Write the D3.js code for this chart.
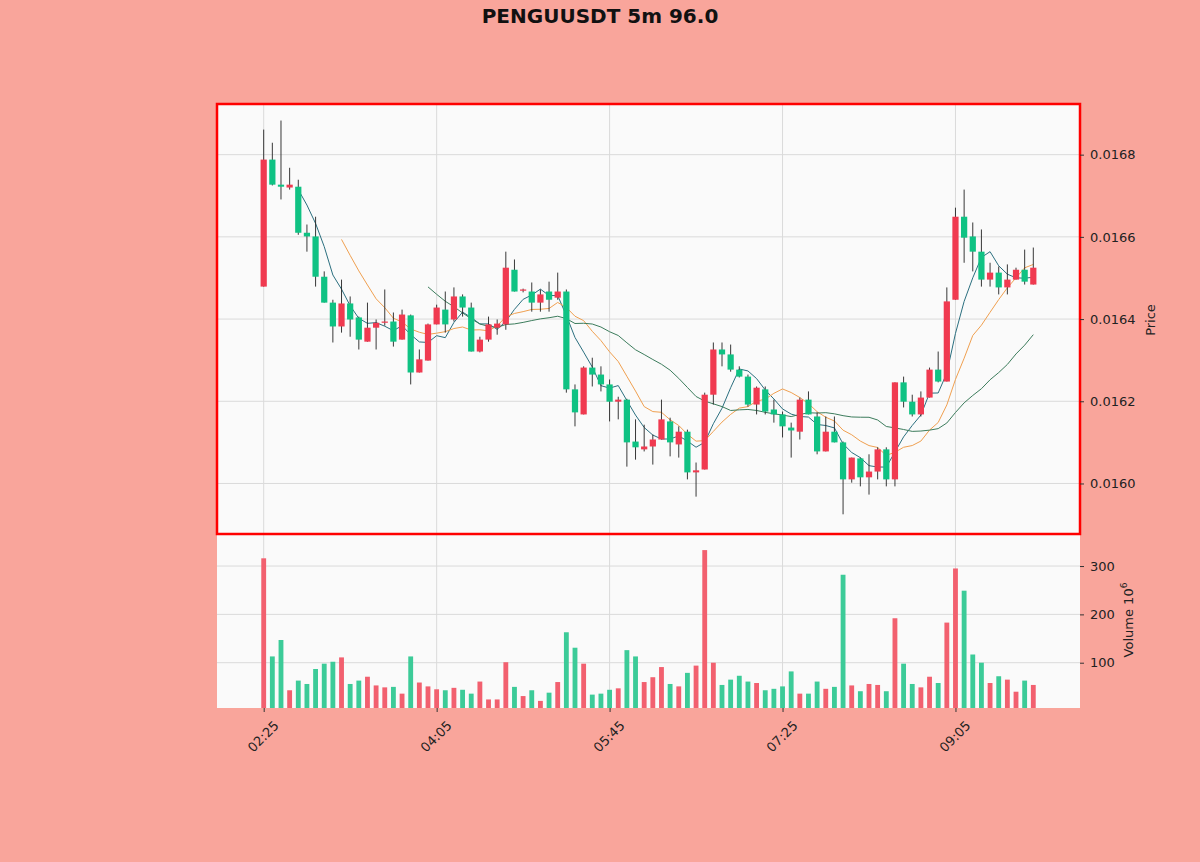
<!DOCTYPE html>
<html>
<head>
<meta charset="utf-8">
<script src="https://cdn.jsdelivr.net/npm/d3@7"></script>
<style>
  html, body { margin: 0; padding: 0; background: #f9a59b; }
  svg { display: block; font-family: "DejaVu Sans", sans-serif; }
</style>
</head>
<body>
<div id="svg-container"></div>
<script>
console.log("candles loaded");

// ohlc, 5m bars starting 02:25
const opens = [0.016479,0.016788,0.016727,0.016720,0.016722,0.016610,0.016601,0.016503,0.016440,0.016382,
  0.016438,0.016404,0.016345,0.016379,0.016391,0.016394,0.016350,0.016409,0.016270,0.016299,
  0.016387,0.016423,0.016399,0.016455,0.016428,0.016321,0.016350,0.016379,0.016387,0.016520,
  0.016469,0.016467,0.016440,0.016467,0.016452,0.016467,0.016229,0.016168,0.016282,0.016265,
  0.016241,0.016199,0.016204,0.016102,0.016083,0.016090,0.016107,0.016151,0.016095,0.016126,
  0.016027,0.016034,0.016216,0.016326,0.016314,0.016277,0.016260,0.016192,0.016229,0.016180,
  0.016168,0.016136,0.016126,0.016204,0.016163,0.016078,0.016126,0.016100,0.016010,0.016061,
  0.016015,0.016029,0.016083,0.016010,0.016246,0.016199,0.016168,0.016209,0.016277,0.016248,
  0.016447,0.016649,0.016601,0.016564,0.016496,0.016513,0.016477,0.016496,0.016520,0.016484];
const highs = [0.016861,0.016829,0.016883,0.016768,0.016739,0.016630,0.016649,0.016516,0.016447,0.016496,
  0.016455,0.016406,0.016440,0.016399,0.016472,0.016416,0.016423,0.016411,0.016326,0.016389,
  0.016435,0.016467,0.016477,0.016460,0.016440,0.016357,0.016406,0.016399,0.016564,0.016545,
  0.016474,0.016489,0.016472,0.016491,0.016513,0.016472,0.016241,0.016285,0.016306,0.016285,
  0.016253,0.016211,0.016206,0.016156,0.016143,0.016119,0.016204,0.016160,0.016139,0.016131,
  0.016051,0.016221,0.016343,0.016343,0.016338,0.016285,0.016265,0.016236,0.016236,0.016204,
  0.016175,0.016148,0.016209,0.016224,0.016173,0.016163,0.016163,0.016102,0.016063,0.016063,
  0.016071,0.016088,0.016088,0.016246,0.016260,0.016216,0.016224,0.016282,0.016321,0.016477,
  0.016671,0.016715,0.016635,0.016618,0.016537,0.016528,0.016533,0.016525,0.016569,0.016574];
const lows = [0.016479,0.016725,0.016691,0.016715,0.016605,0.016564,0.016479,0.016440,0.016343,0.016367,
  0.016357,0.016326,0.016345,0.016326,0.016384,0.016333,0.016350,0.016241,0.016270,0.016299,
  0.016387,0.016367,0.016394,0.016406,0.016321,0.016319,0.016345,0.016362,0.016374,0.016467,
  0.016465,0.016418,0.016418,0.016418,0.016447,0.016221,0.016139,0.016168,0.016236,0.016224,
  0.016151,0.016156,0.016041,0.016058,0.016078,0.016046,0.016107,0.016066,0.016063,0.016010,
  0.015968,0.016034,0.016192,0.016285,0.016272,0.016258,0.016187,0.016168,0.016168,0.016148,
  0.016112,0.016063,0.016107,0.016168,0.016071,0.016078,0.016100,0.015925,0.016002,0.015993,
  0.015973,0.016010,0.015993,0.015993,0.016185,0.016163,0.016163,0.016209,0.016246,0.016248,
  0.016447,0.016537,0.016516,0.016479,0.016479,0.016460,0.016460,0.016496,0.016484,0.016484];
const closes = [0.016788,0.016727,0.016722,0.016727,0.016610,0.016601,0.016503,0.016440,0.016382,0.016438,
  0.016399,0.016350,0.016379,0.016391,0.016394,0.016345,0.016411,0.016270,0.016302,0.016387,
  0.016428,0.016387,0.016455,0.016428,0.016321,0.016350,0.016387,0.016389,0.016525,0.016467,
  0.016472,0.016440,0.016460,0.016447,0.016467,0.016229,0.016173,0.016282,0.016265,0.016241,
  0.016199,0.016204,0.016100,0.016088,0.016090,0.016107,0.016156,0.016100,0.016126,0.016027,
  0.016032,0.016216,0.016326,0.016314,0.016277,0.016260,0.016192,0.016233,0.016175,0.016168,
  0.016139,0.016129,0.016204,0.016168,0.016078,0.016126,0.016100,0.016010,0.016063,0.016015,
  0.016029,0.016083,0.016010,0.016246,0.016199,0.016168,0.016209,0.016277,0.016248,0.016443,
  0.016649,0.016598,0.016564,0.016496,0.016513,0.016477,0.016496,0.016520,0.016491,0.016525];
// volume in units of 1e6
const volumes = [316,113,147,43,63,56,87,98,102,111, 56,63,71,53,49,50,36,113,59,51,
  45,43,48,44,36,61,24,24,101,50, 31,43,21,38,60,163,131,98,34,36,
  44,47,126,113,60,70,91,56,51,79, 94,333,100,54,65,73,61,58,43,46,
  51,82,36,36,61,46,50,282,53,41, 56,54,41,192,98,56,49,71,58,183,
  295,249,117,100,58,72,65,40,63,54];

const mavWindows = [5, 10, 20];
const mavColors = ["#2b6f7f", "#f0a050", "#3c7c5c"];
const xTickIdx = [0, 20, 40, 60, 80];
const xTickLabels = ["02:25", "04:05", "05:45", "07:25", "09:05"];
const priceTicks = [0.0160, 0.0162, 0.0164, 0.0166, 0.0168];
const volTicks = [100, 200, 300];

const upColor = "#f03a50";
const downColor = "#0fc283";
const upVol = "#f2606f";
const downVol = "#3ccb98";

const W = 1200, H = 862;
const left = 217, right = 1080;
const pTop = 104, pBot = 534, vTop = 534, vBot = 708;

const svg = d3.select("#svg-container").append("svg")
    .attr("width", W).attr("height", H);

svg.append("rect").attr("width", W).attr("height", H).attr("fill", "#f9a59b");

const n = closes.length;
const x = d3.scaleLinear()
    .domain([-n * 0.06, (n - 1) + n * 0.06])
    .range([left, right]);
const step = x(1) - x(0);

const pMin = d3.min(lows), pMax = d3.max(highs);
const span = pMax - pMin;
const y = d3.scaleLinear().domain([pMin - span * 0.05, pMax + span * 0.042]).range([pBot, pTop]);
const yv = d3.scaleLinear().domain([0.3 * d3.min(volumes), 1.1 * d3.max(volumes)]).range([vBot, vTop]);

// panel backgrounds
svg.append("rect").attr("x", left).attr("y", pTop).attr("width", right - left).attr("height", pBot - pTop).attr("fill", "#fafafa");
svg.append("rect").attr("x", left).attr("y", vTop).attr("width", right - left).attr("height", vBot - vTop).attr("fill", "#fafafa");

// grid
const grid = svg.append("g").attr("stroke", "#dadada").attr("stroke-width", 1);
xTickIdx.forEach(i => {
  grid.append("line").attr("x1", x(i)).attr("x2", x(i)).attr("y1", pTop).attr("y2", vBot);
});
priceTicks.forEach(p => {
  grid.append("line").attr("x1", left).attr("x2", right).attr("y1", y(p)).attr("y2", y(p));
});
volTicks.forEach(v => {
  grid.append("line").attr("x1", left).attr("x2", right).attr("y1", yv(v)).attr("y2", yv(v));
});

const idx = d3.range(n);

// volume bars
svg.append("g").selectAll("rect").data(idx).enter().append("rect")
    .attr("x", i => x(i) - step * 0.28)
    .attr("width", step * 0.56)
    .attr("y", i => yv(volumes[i]))
    .attr("height", i => vBot - yv(volumes[i]))
    .attr("fill", i => closes[i] >= opens[i] ? upVol : downVol);

// moving averages of close
const mavG = svg.append("g").attr("fill", "none");
mavWindows.forEach((w, k) => {
  const pts = [];
  for (let i = w - 1; i < n; i++) {
    pts.push([i, d3.mean(closes.slice(i - w + 1, i + 1))]);
  }
  mavG.append("path")
      .attr("d", d3.line().x(d => x(d[0])).y(d => y(d[1]))(pts))
      .attr("stroke", mavColors[k])
      .attr("stroke-width", 1);
});

// candles
const candles = svg.append("g").selectAll("g").data(idx).enter().append("g");
candles.append("line")
    .attr("x1", i => x(i)).attr("x2", i => x(i))
    .attr("y1", i => y(highs[i])).attr("y2", i => y(lows[i]))
    .attr("stroke", "#222").attr("stroke-width", 0.9);
candles.append("rect")
    .attr("x", i => x(i) - step * 0.36)
    .attr("width", step * 0.72)
    .attr("y", i => y(Math.max(opens[i], closes[i])))
    .attr("height", i => Math.max(1, Math.abs(y(opens[i]) - y(closes[i]))))
    .attr("fill", i => closes[i] >= opens[i] ? upColor : downColor);

// red frame round the price panel
svg.append("rect").attr("x", left).attr("y", pTop).attr("width", right - left).attr("height", pBot - pTop)
    .attr("fill", "none").attr("stroke", "#ff0000").attr("stroke-width", 2.5);

// right axes
const pAxis = svg.append("g").attr("transform", `translate(${right},0)`)
    .call(d3.axisRight(y).tickValues(priceTicks).tickFormat(d3.format(".4f")).tickSize(4).tickPadding(6));
const vAxis = svg.append("g").attr("transform", `translate(${right},0)`)
    .call(d3.axisRight(yv).tickValues(volTicks).tickFormat(d3.format("d")).tickSize(4).tickPadding(6));
[pAxis, vAxis].forEach(a => {
  a.select(".domain").remove();
  a.selectAll("text").attr("font-size", 13).attr("fill", "#222").attr("font-family", "DejaVu Sans");
  a.selectAll("line").attr("stroke", "#333");
});

// bottom axis, rotated labels
const xAxis = svg.append("g").attr("transform", `translate(0,${vBot})`)
    .call(d3.axisBottom(x).tickValues(xTickIdx).tickFormat((d, i) => xTickLabels[i]).tickSize(4));
xAxis.select(".domain").remove();
xAxis.selectAll("line").attr("stroke", "#333");
xAxis.selectAll("text")
    .attr("font-size", 13).attr("fill", "#222").attr("font-family", "DejaVu Sans")
    .attr("text-anchor", "end")
    .attr("transform", "translate(5,8) rotate(-45)")
    .attr("dy", "0.6em");

// axis labels
svg.append("text").attr("transform", "translate(1155,320) rotate(-90)")
    .attr("text-anchor", "middle").attr("font-size", 13).attr("fill", "#222").text("Price");
const vl = svg.append("text").attr("transform", "translate(1133,620) rotate(-90)")
    .attr("text-anchor", "middle").attr("font-size", 13).attr("fill", "#222");
vl.append("tspan").text("Volume  10");
vl.append("tspan").attr("dy", -6).attr("font-size", 9).text("6");

// title
svg.append("text").attr("x", 600).attr("y", 23).attr("text-anchor", "middle")
    .attr("font-size", 20).attr("font-weight", "bold").attr("fill", "#111")
    .text("PENGUUSDT 5m 96.0");
</script>
</body>
</html>
